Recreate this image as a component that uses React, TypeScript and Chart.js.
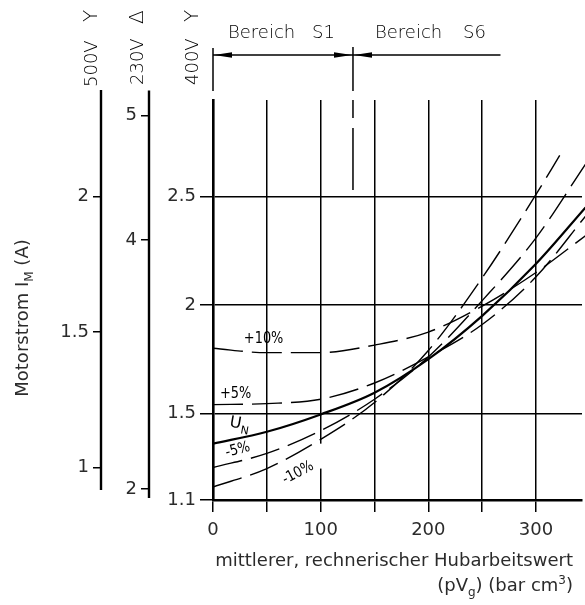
import React, { useEffect, useRef } from "react";
import { Chart, registerables } from "chart.js";

Chart.register(...registerables);

// Load axis: mittlerer, rechnerischer Hubarbeitswert (bar cm³)
const loadSteps = [0, 50, 100, 150, 200, 250, 300, 346];
const loadStepsMinus10 = [0, 50, 100, 150, 200, 250, 300, 322];

// Motor current I_M (A) on the 400 V scale for each supply voltage
const currentPlus10 = [1.8, 1.78, 1.78, 1.815, 1.875, 1.995, 2.15, 2.32];
const currentPlus5 = [1.54, 1.545, 1.565, 1.64, 1.76, 1.91, 2.13, 2.41];
const currentNominal = [1.36, 1.415, 1.495, 1.595, 1.75, 1.95, 2.19, 2.45];
const currentMinus5 = [1.25, 1.315, 1.42, 1.565, 1.76, 2.02, 2.31, 2.65];
const currentMinus10 = [1.16, 1.245, 1.38, 1.55, 1.79, 2.125, 2.51, 2.69];

// Axes
const loadTicks = [0, 50, 100, 150, 200, 250, 300];
const loadLabelStep = 100;
const loadRange = [0, 342.7];
const current400Range = [1.1, 2.946];
const current400Ticks = [1.1, 1.5, 2, 2.5];
const current230Ticks = [2, 4, 5];
const current500Ticks = [1, 1.5, 2];
const factor500 = 400 / 500;
const factor230 = 400 / 230;
// drawn extent of the converted scales (in their own units)
const axis500Extent = [0.917, 2.394];
const axis230Extent = [1.929, 5.2];

// Operating ranges S1 / S6
const boundaryS1S6 = 130;
const endS6 = 267;

const SANS = '"DejaVu Sans", "Liberation Sans", sans-serif';
const TEXT = "#2b2b2b";

const points = (xs: number[], ys: number[]) => xs.map((x, i) => ({ x, y: ys[i] }));

const curve = (data: { x: number; y: number }[], dashed: boolean) => ({
  data,
  xAxisID: "x",
  yAxisID: "y",
  borderColor: "#000",
  borderWidth: dashed ? 1.4 : 2.2,
  borderDash: dashed ? [30, 9] : [],
  pointRadius: 0,
  fill: false,
  cubicInterpolationMode: "monotone" as const,
  clip: { left: 0, top: 0, right: 6, bottom: 0 },
});

const annotations = {
  id: "annotations",
  afterDraw(chart: any) {
    const { ctx } = chart;
    const x = chart.scales.x;
    const y = chart.scales.y;
    ctx.save();
    ctx.fillStyle = "#000";
    ctx.strokeStyle = "#000";

    const line = (x1: number, y1: number, x2: number, y2: number, w = 1.5) => {
      ctx.lineWidth = w;
      ctx.beginPath();
      ctx.moveTo(x1, y1);
      ctx.lineTo(x2, y2);
      ctx.stroke();
    };
    const arrow = (tx: number, ty: number, dir: number) => {
      ctx.beginPath();
      ctx.moveTo(tx, ty);
      ctx.lineTo(tx - dir * 18, ty - 2.8);
      ctx.lineTo(tx - dir * 18, ty + 2.8);
      ctx.closePath();
      ctx.fill();
    };

    // axis lines of the 500 V and 230 V scales
    const s500 = chart.scales.y500;
    const s230 = chart.scales.y230;
    line(s500.right - 1, s500.getPixelForValue(axis500Extent[1]), s500.right - 1, s500.getPixelForValue(axis500Extent[0]), 2.4);
    line(s230.right - 1, s230.getPixelForValue(axis230Extent[1]), s230.right - 1, s230.getPixelForValue(axis230Extent[0]), 2.4);

    // Bereich S1 / S6 header
    const px0 = x.getPixelForValue(0);
    const pxB = x.getPixelForValue(boundaryS1S6);
    const pxE = x.getPixelForValue(endS6);
    const yArrow = 55;
    line(px0, 48, px0, 91);
    line(pxB, 47, pxB, 91);
    line(px0, yArrow, pxE, yArrow, 1.4);
    arrow(px0 + 1, yArrow, -1);
    arrow(pxB - 1, yArrow, 1);
    arrow(pxB + 1, yArrow, -1);

    // boundary continues dashed into the plot
    ctx.save();
    ctx.setLineDash([18, 10, 62, 1000]);
    line(pxB, y.getPixelForValue(current400Range[1]), pxB, y.getPixelForValue(2.53), 1.5);
    ctx.restore();

    ctx.font = `300 18px ${SANS}`;
    ctx.textBaseline = "alphabetic";
    ctx.textAlign = "left";
    ctx.fillText("Bereich", 228, 38);
    ctx.fillText("Bereich", 375, 38);
    ctx.textAlign = "right";
    ctx.fillText("S1", 335, 38);
    ctx.fillText("S6", 486, 38);

    // voltage headers of the three current scales
    const vertical = (bx: number, by: number, volt: string, sym: string, off: number) => {
      ctx.save();
      ctx.translate(bx, by);
      ctx.rotate(-Math.PI / 2);
      ctx.textAlign = "left";
      ctx.font = `300 18px ${SANS}`;
      ctx.fillText(volt, 0, 0);
      ctx.font = `300 20px ${SANS}`;
      ctx.fillText(sym, off, 0);
      ctx.restore();
    };
    vertical(97, 87, "500V", "Y", 65);
    vertical(143, 85, "230V", "Δ", 61);
    vertical(198, 85, "400V", "Y", 63);

    // label clearance in the 100 grid line
    const px100 = x.getPixelForValue(100);
    ctx.fillStyle = "#fff";
    ctx.fillRect(px100 - 2, y.getPixelForValue(1.36), 4, y.getPixelForValue(1.245) - y.getPixelForValue(1.36));
    ctx.fillStyle = "#000";

    // curve labels
    const label = (text: string, vx: number, vy: number, deg: number, size = 15) => {
      ctx.save();
      ctx.translate(x.getPixelForValue(vx), y.getPixelForValue(vy));
      ctx.rotate((deg * Math.PI) / 180);
      ctx.scale(0.86, 1);
      ctx.font = `${size}px ${SANS}`;
      ctx.textAlign = "center";
      ctx.textBaseline = "middle";
      ctx.fillText(text, 0, 0);
      ctx.restore();
    };
    label("+10%", 47, 1.843, 0);
    label("+5%", 21, 1.589, 0);
    label("-5%", 23, 1.331, -15);
    label("-10%", 79, 1.225, -28);
    ctx.save();
    ctx.translate(x.getPixelForValue(22), y.getPixelForValue(1.452));
    ctx.rotate((10 * Math.PI) / 180);
    ctx.font = `16px ${SANS}`;
    ctx.textAlign = "left";
    ctx.textBaseline = "middle";
    ctx.fillText("U", -7, 0);
    ctx.font = `11px ${SANS}`;
    ctx.fillText("N", 5, 6);
    ctx.restore();

    // axis titles
    ctx.fillStyle = TEXT;
    ctx.textBaseline = "alphabetic";
    ctx.font = `18px ${SANS}`;
    ctx.textAlign = "right";
    ctx.fillText("mittlerer, rechnerischer Hubarbeitswert", 573, 566);

    const parts: [string, string][] = [
      ["(pV", "n"],
      ["g", "sub"],
      [") (bar cm", "n"],
      ["3", "sup"],
      [")", "n"],
    ];
    const fontFor = (k: string) => (k === "n" ? `18px ${SANS}` : `12px ${SANS}`);
    let total = 0;
    for (const [t, k] of parts) {
      ctx.font = fontFor(k);
      total += ctx.measureText(t).width;
    }
    let cx = 573 - total;
    ctx.textAlign = "left";
    for (const [t, k] of parts) {
      ctx.font = fontFor(k);
      const dy = k === "sub" ? 5 : k === "sup" ? -7 : 0;
      ctx.fillText(t, cx, 591 + dy);
      cx += ctx.measureText(t).width;
    }

    // y title
    ctx.save();
    ctx.translate(28, 318);
    ctx.rotate(-Math.PI / 2);
    const yParts: [string, string][] = [
      ["Motorstrom I", "n"],
      ["M", "sub"],
      [" (A)", "n"],
    ];
    let yTotal = 0;
    for (const [t, k] of yParts) {
      ctx.font = fontFor(k);
      yTotal += ctx.measureText(t).width;
    }
    let cy = -yTotal / 2;
    for (const [t, k] of yParts) {
      ctx.font = fontFor(k);
      ctx.fillText(t, cy, k === "sub" ? 5 : 0);
      cy += ctx.measureText(t).width;
    }
    ctx.restore();

    ctx.restore();
  },
};

const fixedTicks = (values: number[]) => (scale: any) => {
  scale.ticks = values.map((value) => ({ value }));
};

const sideScale = (factor: number, ticks: number[], width: number, weight: number) => ({
  type: "linear" as const,
  position: "left" as const,
  weight,
  min: current400Range[0] * factor,
  max: current400Range[1] * factor,
  afterBuildTicks: fixedTicks(ticks),
  afterFit: (s: any) => {
    s.width = width;
  },
  border: { display: false },
  grid: { drawOnChartArea: false, drawTicks: true, tickLength: 9, color: "#000", lineWidth: 1.5 },
  ticks: {
    color: TEXT,
    padding: 4,
    font: { family: SANS, size: 18 },
    callback: (v: number) => String(v),
  },
});

export default function App() {
  const canvasRef = useRef<HTMLCanvasElement | null>(null);

  useEffect(() => {
    document.body.style.margin = "0";
    const canvas = canvasRef.current;
    if (!canvas) return;
    const chart = new Chart(canvas, {
      type: "line",
      data: {
        datasets: [
          curve(points(loadSteps, currentPlus10), true),
          curve(points(loadSteps, currentPlus5), true),
          curve(points(loadSteps, currentNominal), false),
          curve(points(loadSteps, currentMinus5), true),
          curve(points(loadStepsMinus10, currentMinus10), true),
        ] as any,
      },
      options: {
        responsive: false,
        animation: false,
        devicePixelRatio: 1,
        layout: { padding: { top: 100, right: 3, bottom: 0, left: 0 } },
        plugins: { legend: { display: false }, tooltip: { enabled: false } },
        scales: {
          x: {
            type: "linear",
            min: loadRange[0],
            max: loadRange[1],
            afterBuildTicks: fixedTicks(loadTicks),
            afterFit: (s: any) => {
              s.height = 105;
            },
            border: { display: true, color: "#000", width: 2.6 },
            grid: { color: "#000", lineWidth: 1.5, tickLength: 12 },
            ticks: {
              color: TEXT,
              padding: 8,
              maxRotation: 0,
              font: { family: SANS, size: 18 },
              callback: (v: any) => (Number(v) % loadLabelStep === 0 ? String(v) : ""),
            },
          },
          y500: sideScale(factor500, current500Ticks, 102, 3) as any,
          y230: sideScale(factor230, current230Ticks, 48, 2) as any,
          y: {
            type: "linear",
            position: "left",
            weight: 1,
            min: current400Range[0],
            max: current400Range[1],
            afterBuildTicks: fixedTicks(current400Ticks),
            afterFit: (s: any) => {
              s.width = 63;
            },
            border: { display: true, color: "#000", width: 2.6 },
            grid: { color: "#000", lineWidth: 1.5, tickLength: 13 },
            ticks: {
              color: TEXT,
              padding: 4,
              font: { family: SANS, size: 18 },
              callback: (v: any) => String(v),
            },
          },
        },
      },
      plugins: [annotations],
    });
    return () => chart.destroy();
  }, []);

  return <canvas ref={canvasRef} width={585} height={605} style={{ display: "block" }} />;
}
